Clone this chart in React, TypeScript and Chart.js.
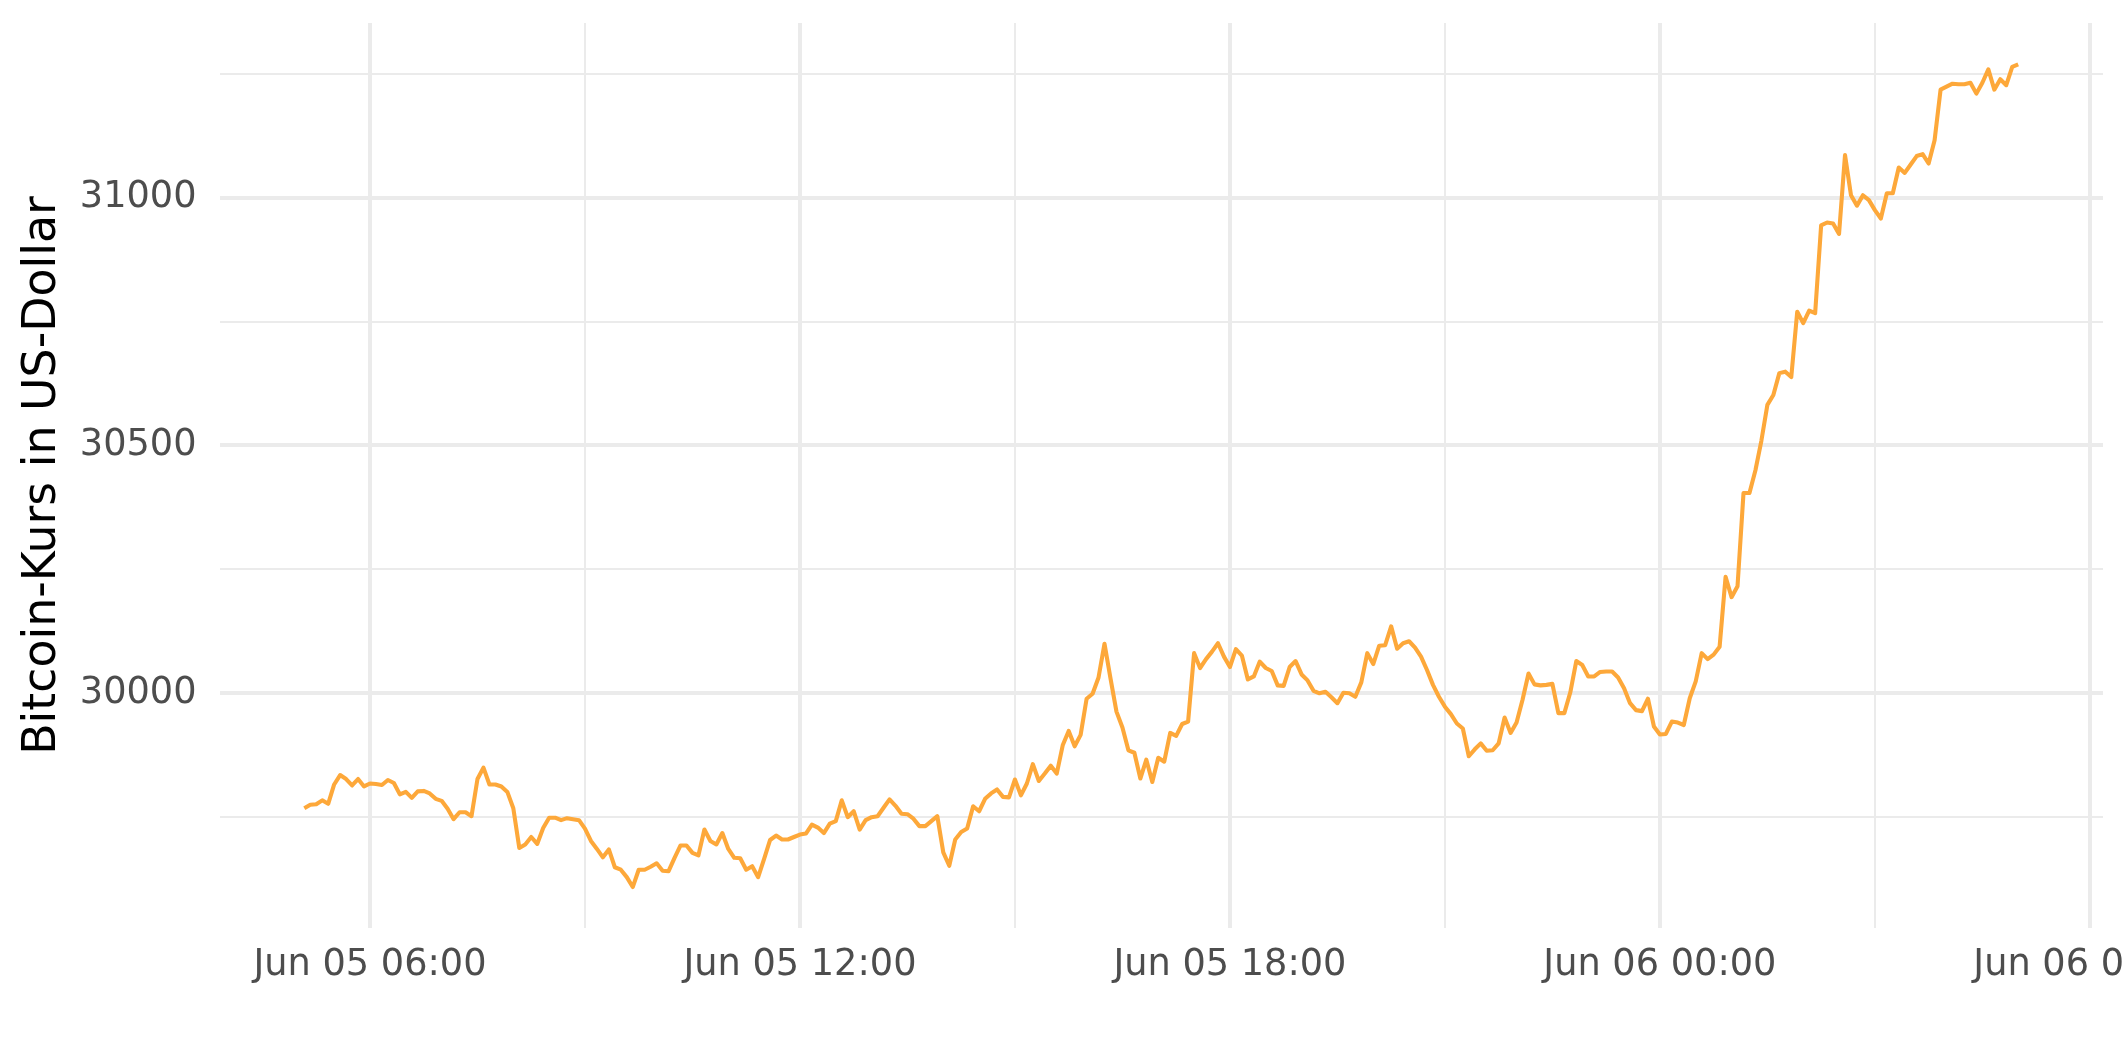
import React, { useEffect, useRef } from "react";
import { Chart, registerables } from "chart.js";

Chart.register(...registerables);

// Time axis: minutes after Jun 05 00:00; samples every 5 minutes starting at 05:05
const startMinute = 305;
const stepMinutes = 5;

// Bitcoin price (USD), one row per hour of samples
const prices: number[] = [
  29768, 29775, 29776, 29784, 29777, 29816, 29835, 29827, 29814, 29827, 29812, 29818,
  29817, 29815, 29825, 29819, 29796, 29801, 29789, 29802, 29803, 29798, 29787, 29783,
  29767, 29746, 29760, 29760, 29752, 29827, 29850, 29816, 29816, 29812, 29801, 29768,
  29688, 29695, 29710, 29696, 29728, 29749, 29749, 29744, 29748, 29746, 29744, 29727,
  29702, 29686, 29669, 29685, 29649, 29644, 29629, 29609, 29644, 29644, 29650, 29657,
  29642, 29641, 29668, 29693, 29693, 29678, 29673, 29725, 29702, 29695, 29718, 29686,
  29668, 29667, 29644, 29651, 29629, 29666, 29704, 29713, 29705, 29705, 29710, 29715,
  29717, 29735, 29729, 29718, 29737, 29742, 29784, 29750, 29762, 29725, 29744, 29750,
  29752, 29769, 29786, 29773, 29757, 29756, 29747, 29732, 29732, 29742, 29752, 29679,
  29652, 29705, 29720, 29727, 29772, 29762, 29787, 29798, 29806, 29791, 29790, 29826,
  29794, 29818, 29857, 29823, 29838, 29854, 29838, 29895, 29924, 29893, 29916, 29989,
  29999, 30032, 30100, 30030, 29963, 29931, 29885, 29880, 29828, 29866, 29821, 29870,
  29862, 29920, 29914, 29938, 29943, 30081, 30051, 30069, 30084, 30101, 30074, 30053,
  30089, 30076, 30028, 30034, 30064, 30051, 30045, 30016, 30015, 30053, 30065, 30038,
  30026, 30005, 30000, 30003, 29992, 29980, 30001, 30000, 29993, 30022, 30081, 30059,
  30096, 30097, 30135, 30090, 30101, 30105, 30092, 30074, 30047, 30017, 29993, 29973,
  29958, 29939, 29929, 29873, 29887, 29899, 29884, 29885, 29899, 29951, 29920, 29941,
  29987, 30040, 30018, 30016, 30017, 30019, 29960, 29960, 30002, 30065, 30057, 30034,
  30034, 30043, 30044, 30044, 30032, 30010, 29980, 29966, 29964, 29989, 29933, 29917,
  29918, 29943, 29941, 29936, 29990, 30024, 30081, 30069, 30078, 30094, 30235, 30194,
  30216, 30404, 30404, 30450, 30510, 30582, 30602, 30646, 30649, 30638, 30770, 30747,
  30772, 30767, 30944, 30950, 30948, 30927, 31086, 31005, 30984, 31005, 30995, 30975,
  30958, 31009, 31009, 31061, 31050, 31067, 31084, 31088, 31069, 31116, 31218, 31224,
  31230, 31229, 31229, 31232, 31210, 31232, 31259, 31218, 31239, 31227, 31264, 31269,
];

const xTickMinutes = [360, 720, 1080, 1440, 1800];
const xTickLabels = ["Jun 05 06:00", "Jun 05 12:00", "Jun 05 18:00", "Jun 06 00:00", "Jun 06 06:00"];
const yTickValues = [30000, 30500, 31000];
const yTitle = "Bitcoin-Kurs in US-Dollar";

const X_MIN = 234;
const X_MAX = 1811;
const Y_MIN = 29526.4;
const Y_MAX = 31352.5;

const LINE_COLOR = "#FDA83A";
const GRID_COLOR = "#EBEBEB";
const FONT = "'DejaVu Sans', 'Liberation Sans', sans-serif";

export default function App() {
  const ref = useRef<HTMLCanvasElement>(null);

  useEffect(() => {
    const canvas = ref.current!;
    const points = prices.map((p, i) => ({ x: startMinute + i * stepMinutes, y: p }));
    const chart = new Chart(canvas, {
      type: "line",
      data: {
        datasets: [
          {
            data: points,
            borderColor: LINE_COLOR,
            backgroundColor: LINE_COLOR,
            borderWidth: 4.1,
            pointRadius: 0,
            pointHoverRadius: 0,
            tension: 0,
            fill: false,
            borderJoinStyle: "round",
            borderCapStyle: "butt",
          },
        ],
      },
      options: {
        animation: false,
        responsive: false,
        devicePixelRatio: 1,
        layout: { padding: { left: 0, top: 23, right: 137, bottom: 0 } },
        plugins: { legend: { display: false }, tooltip: { enabled: false } },
        scales: {
          x: {
            type: "linear",
            min: X_MIN,
            max: X_MAX,
            afterFit: (s: any) => {
              s.height = 134;
              s.paddingLeft = 0;
              s.paddingRight = 0;
            },
            border: { display: false },
            grid: {
              color: GRID_COLOR,
              drawTicks: false,
              lineWidth: (ctx: any) => {
                const v = ctx.tick ? ctx.tick.value : 0;
                return xTickMinutes.includes(v) ? 4 : 2;
              },
            },
            ticks: {
              stepSize: 180,
              includeBounds: false,
              autoSkip: false,
              maxRotation: 0,
              minRotation: 0,
              padding: 15,
              color: "#4D4D4D",
              font: { family: FONT, size: 36.7 },
              callback: (v: any) => {
                const idx = xTickMinutes.indexOf(Number(v));
                return idx >= 0 ? xTickLabels[idx] : "";
              },
            },
          },
          y: {
            type: "linear",
            min: Y_MIN,
            max: Y_MAX,
            afterFit: (s: any) => {
              s.width = 219.5;
              s.paddingTop = 0;
              s.paddingBottom = 0;
            },
            border: { display: false },
            grid: {
              color: GRID_COLOR,
              drawTicks: false,
              lineWidth: (ctx: any) => {
                const v = ctx.tick ? ctx.tick.value : 0;
                return yTickValues.includes(v) ? 4 : 2;
              },
            },
            ticks: {
              stepSize: 250,
              includeBounds: false,
              autoSkip: false,
              padding: 23,
              color: "#4D4D4D",
              font: { family: FONT, size: 36.7 },
              callback: (v: any) => (yTickValues.includes(Number(v)) ? String(v) : ""),
            },
            title: {
              display: true,
              text: yTitle,
              color: "#000000",
              font: { family: FONT, size: 45.8 },
              padding: { top: 16, bottom: 0 },
            },
          },
        },
      },
    });
    return () => chart.destroy();
  }, []);

  return (
    <div
      style={{
        position: "fixed",
        left: 0,
        top: 0,
        width: 2125,
        height: 1062,
        overflow: "hidden",
        background: "#ffffff",
      }}
    >
      <canvas ref={ref} width={2240} height={1062} style={{ display: "block", width: 2240, height: 1062 }} />
    </div>
  );
}
